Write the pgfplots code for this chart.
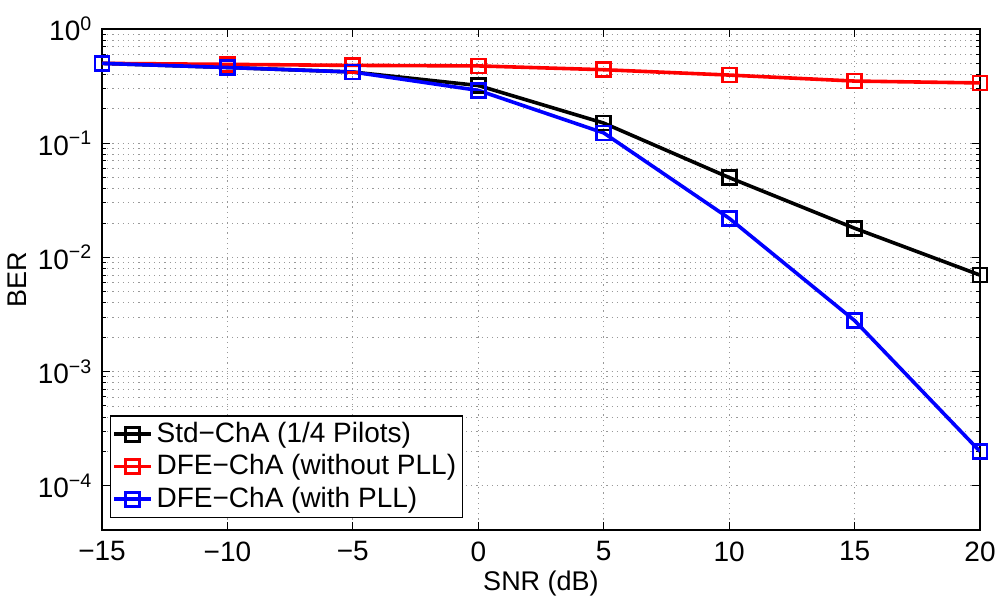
\documentclass[border=0pt]{standalone}
\usepackage{fontspec}
\setmainfont{Liberation Sans}
\usepackage{pgfplots}
\pgfplotsset{compat=1.18}

\begin{document}
\fontsize{14}{16}\selectfont
\begin{tikzpicture}
% page = 1000x597 px at 0.5pt per px; axis box from (102,29) to (980,530)
\useasboundingbox (-51pt,-33.5pt) rectangle (449pt,265pt);
\begin{semilogyaxis}[
  scale only axis,
  width=439pt,
  height=250.5pt,
  xmin=-15, xmax=20,
  ymin=4.1e-5, ymax=1,
  xtick={-15,-10,-5,0,5,10,15,20},
  xticklabels={−15,−10,−5,0,5,10,15,20},
  ytick={1e-4,1e-3,1e-2,1e-1,1},
  yticklabels={10\textsuperscript{−4},10\textsuperscript{−3},10\textsuperscript{−2},10\textsuperscript{−1},10\textsuperscript{0}},
  tick label style={font=\fontsize{14}{16}\selectfont},
  xticklabel style={yshift=-1pt},
  xlabel={SNR (dB)},
  ylabel={BER},
  label style={font=\fontsize{13.5}{16}\selectfont},
  xlabel style={yshift=5pt},
  ylabel style={yshift=-4pt},
  xmajorgrids, ymajorgrids, yminorgrids,
  major grid style={draw=gray!80, line width=0.4pt, dash pattern=on 0.6pt off 2pt},
  minor grid style={draw=gray!80, line width=0.4pt, dash pattern=on 0.6pt off 2pt},
  axis line style={line width=0.6pt},
  major tick length=4pt,
  minor tick length=2.2pt,
  tick style={black, line width=0.5pt},
  every axis plot/.append style={line width=1.8pt},
  mark options={solid, mark size=3.5pt, line width=1.4pt, fill=none},
  legend style={at={(0,0)}, anchor=south west, xshift=4pt, yshift=6pt,
    draw=black, line width=0.6pt, font=\fontsize{14}{16}\selectfont,
    inner sep=1pt, row sep=0pt, cells={anchor=west}},
  legend image code/.code={%
    \draw[mark repeat=2,mark phase=2] plot coordinates {(0cm,0cm) (0.32cm,0cm) (0.64cm,0cm)};},
]
\addplot[black, mark=square] coordinates {(-15,0.5) (-10,0.46) (-5,0.42) (0,0.32) (5,0.15) (10,0.05) (15,0.018) (20,0.007)};
\addplot[red, mark=square] coordinates {(-15,0.5) (-10,0.49) (-5,0.48) (0,0.475) (5,0.44) (10,0.395) (15,0.35) (20,0.337)};
\addplot[blue, mark=square] coordinates {(-15,0.5) (-10,0.46) (-5,0.42) (0,0.29) (5,0.123) (10,0.022) (15,0.0028) (20,0.0002)};
\legend{Std−ChA (1/4 Pilots), DFE−ChA (without PLL), DFE−ChA (with PLL)}
\end{semilogyaxis}
\end{tikzpicture}
\end{document}
